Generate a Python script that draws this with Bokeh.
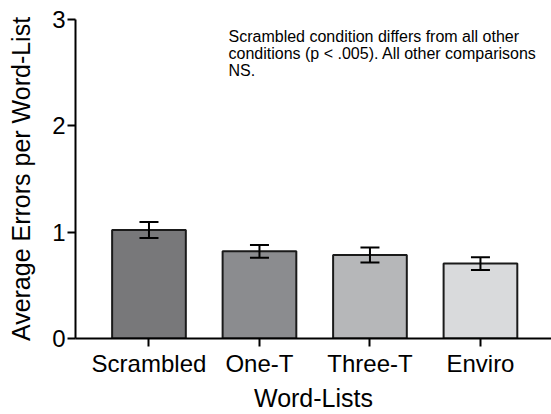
from bokeh.plotting import figure
from bokeh.models import ColumnDataSource, Whisker, TeeHead, FixedTicker, Range1d, Label
from bokeh.embed import file_html
from bokeh.resources import INLINE

categories = ["Scrambled", "One-T", "Three-T", "Enviro"]
means = [1.02, 0.82, 0.785, 0.705]
errors = [0.075, 0.06, 0.07, 0.06]
colors = ["#78787a", "#8b8c8f", "#b6b7b9", "#d9dadc"]
y_ticks = [0, 1, 2, 3]
note_lines = ["Scrambled condition differs from all other",
              "conditions (p < .005). All other comparisons",
              "NS."]

xs = list(range(len(categories)))
src = ColumnDataSource(dict(
    x=xs, top=means, color=colors,
    upper=[m + e for m, e in zip(means, errors)],
    lower=[m - e for m, e in zip(means, errors)],
))

FONT = "Liberation Sans"

p = figure(width=551, height=414, output_backend="svg", toolbar_location=None,
           x_range=Range1d(-0.665, 3.643), y_range=Range1d(0, 3),
           min_border_left=75, min_border_right=0, min_border_top=19, min_border_bottom=76)
p.outline_line_color = None
p.xgrid.visible = False
p.ygrid.visible = False

p.vbar(x="x", top="top", width=0.667, bottom=0, source=src,
       fill_color="color", line_color="#1a1a1a", line_width=2)

w = Whisker(base="x", upper="upper", lower="lower", source=src,
            line_color="black", line_width=2, level="overlay",
            upper_head=TeeHead(size=19, line_color="black", line_width=2),
            lower_head=TeeHead(size=19, line_color="black", line_width=2))
p.add_layout(w)

# axes
p.xaxis.ticker = FixedTicker(ticks=xs)
p.xaxis.major_label_overrides = {i: c for i, c in enumerate(categories)}
p.xaxis.minor_tick_line_color = None
p.xaxis.major_tick_in = 0
p.xaxis.major_tick_out = 8
p.xaxis.axis_line_width = 2
p.xaxis.major_tick_line_width = 2
p.xaxis.axis_label = "Word-Lists"

p.yaxis.ticker = FixedTicker(ticks=y_ticks)
p.yaxis.minor_tick_line_color = None
p.yaxis.major_tick_in = 0
p.yaxis.major_tick_out = 8
p.yaxis.axis_line_width = 2
p.yaxis.major_tick_line_width = 2
p.yaxis.axis_label = "Average Errors per Word-List"

for ax in (p.xaxis, p.yaxis):
    ax.axis_line_color = "black"
    ax.major_tick_line_color = "black"
    ax.major_label_text_font = FONT
    ax.major_label_text_font_size = "24px"
    ax.major_label_text_color = "black"
    ax.axis_label_text_font = FONT
    ax.axis_label_text_font_size = "25px"
    ax.axis_label_text_font_style = "normal"
    ax.axis_label_text_color = "black"

p.xaxis.major_label_standoff = 3
p.xaxis.axis_label_standoff = 4
p.yaxis.major_label_standoff = 2
p.yaxis.axis_label_standoff = 14

note_y = [2.843, 2.683, 2.52]
for txt, yy in zip(note_lines, note_y):
    p.add_layout(Label(x=0.72, y=yy, text=txt, text_font=FONT, text_font_size="16px",
                       text_color="black", text_baseline="alphabetic", text_align="left"))

open("out.html", "w").write(file_html(p, INLINE))
